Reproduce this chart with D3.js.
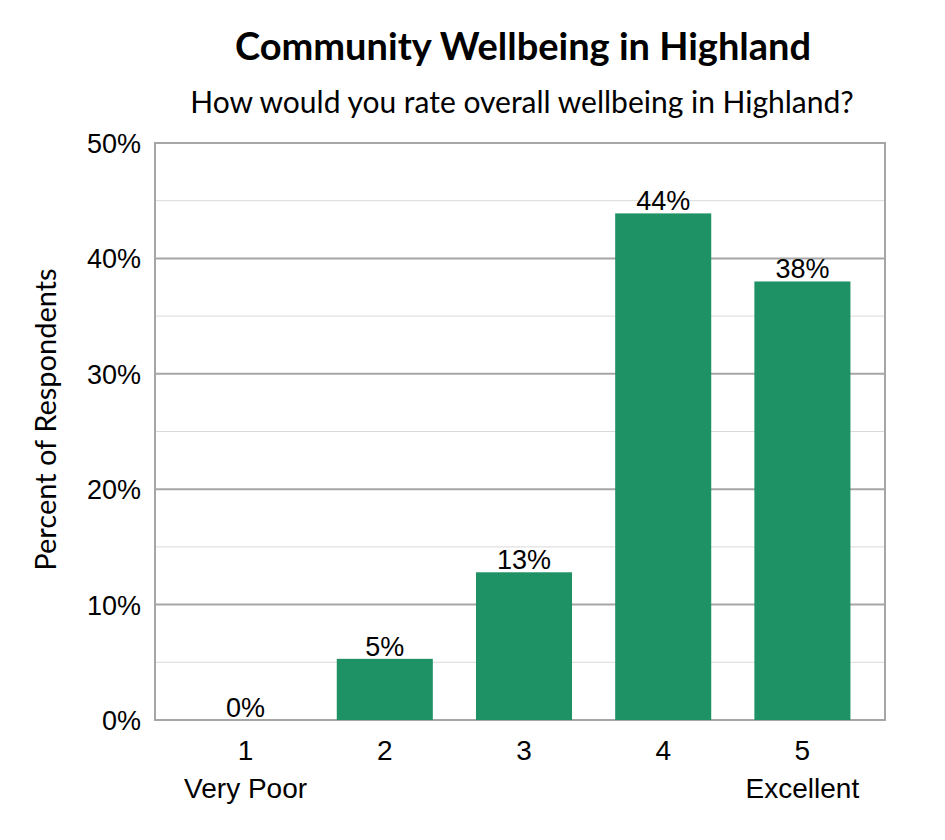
<!DOCTYPE html>
<html><head><meta charset="utf-8">
<script src="https://cdn.jsdelivr.net/npm/d3@7"></script>
<style>body{margin:0;background:#fff}</style>
</head><body>
<svg id="chart" width="945" height="840"></svg>
<script>
// chart data
var categories = ["1", "2", "3", "4", "5"];
var subLabels = ["Very Poor", "", "", "", "Excellent"];
var values = [0, 5.3, 12.8, 43.9, 38.0];
var yTicks = [0, 10, 20, 30, 40, 50];

var svg = d3.select("#chart");
var pL = 155, pR = 885, pT = 143, pB = 720;
var tickFont = "Liberation Sans, Arial";

var x = d3.scaleBand().domain(categories).range([176, 872]).paddingInner(0.31).paddingOuter(0.155);
var y = d3.scaleLinear().domain([0, 50]).range([pB, pT]);

// minor gridlines
svg.selectAll("line.minor").data(d3.range(5, 50, 10)).enter().append("line")
  .attr("x1", pL).attr("x2", pR)
  .attr("y1", d => y(d)).attr("y2", d => y(d))
  .attr("stroke", "#d9d9d9").attr("stroke-width", 1);
// major gridlines
svg.selectAll("line.major").data(yTicks).enter().append("line")
  .attr("x1", pL).attr("x2", pR)
  .attr("y1", d => y(d)).attr("y2", d => y(d))
  .attr("stroke", "#a6a6a6").attr("stroke-width", 2);
// frame
svg.append("rect").attr("x", pL).attr("y", pT)
  .attr("width", pR - pL).attr("height", pB - pT)
  .attr("fill", "none").attr("stroke", "#a6a6a6").attr("stroke-width", 2);

// bars
svg.selectAll("rect.bar").data(values).enter().append("rect")
  .attr("x", (d, i) => x(categories[i])).attr("width", x.bandwidth())
  .attr("y", d => y(d)).attr("height", d => pB - y(d))
  .attr("fill", "#1e9165");

// value labels
svg.selectAll("text.val").data(values).enter().append("text")
  .attr("x", (d, i) => x(categories[i]) + x.bandwidth() / 2)
  .attr("y", d => y(d) - 3)
  .attr("text-anchor", "middle").attr("font-family", tickFont)
  .attr("font-size", 27).text(d => Math.round(d) + "%");

// y ticks
svg.selectAll("text.yt").data(yTicks).enter().append("text")
  .attr("x", 141).attr("y", d => y(d) + 10)
  .attr("text-anchor", "end").attr("font-family", tickFont)
  .attr("font-size", 27).text(d => d + "%");

// x ticks
svg.selectAll("text.xt").data(categories).enter().append("text")
  .attr("x", d => x(d) + x.bandwidth() / 2).attr("y", 760)
  .attr("text-anchor", "middle").attr("font-family", tickFont)
  .attr("font-size", 28).text(d => d);
svg.selectAll("text.xs").data(subLabels).enter().append("text")
  .attr("x", (d, i) => x(categories[i]) + x.bandwidth() / 2).attr("y", 798)
  .attr("text-anchor", "middle").attr("font-family", tickFont)
  .attr("font-size", 28).text(d => d);

// titles
svg.append("text").attr("x", 523).attr("y", 60).attr("text-anchor", "middle")
  .attr("font-family", "Lato, Open Sans").attr("font-weight", "bold").attr("font-size", 38)
  .text("Community Wellbeing in Highland");
svg.append("text").attr("x", 522).attr("y", 113).attr("text-anchor", "middle")
  .attr("font-family", "Lato, Open Sans").attr("font-size", 30)
  .text("How would you rate overall wellbeing in Highland?");
svg.append("text").attr("transform", "translate(56," + ((pT + pB) / 2 - 12) + ") rotate(-90)")
  .attr("text-anchor", "middle").attr("font-family", "Lato, Open Sans").attr("font-size", 29)
  .text("Percent of Respondents");
</script>
</body></html>
